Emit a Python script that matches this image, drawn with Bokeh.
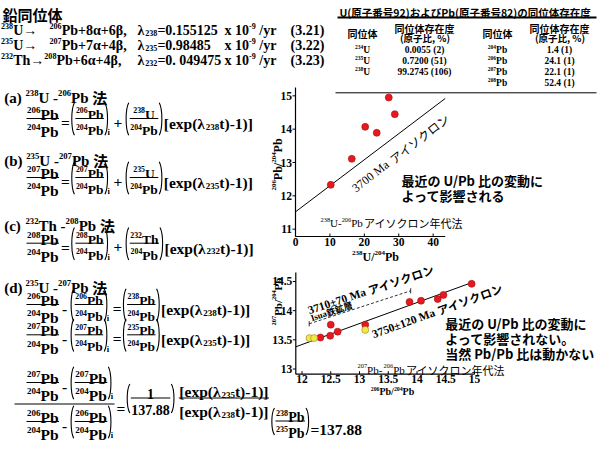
import math
from collections import defaultdict
from bokeh.plotting import figure
from bokeh.models import Range1d, ColumnDataSource
from bokeh.core.properties import value
from bokeh.embed import file_html
from bokeh.resources import INLINE

# ---------------- data ----------------
# table: isotope abundances
u_isotopes = ["234", "235", "238"]
u_abund = ["0.0055 (2)", "0.7200 (51)", "99.2745 (106)"]
pb_isotopes = ["204", "206", "207", "208"]
pb_abund = ["1.4 (1)", "24.1 (1)", "22.1 (1)", "52.4 (1)"]

# chart 1: 238U-206Pb isochron
c1_u238_pb204 = [10.25, 16.35, 20.25, 23.6, 27.1, 28.85]
c1_pb206_pb204 = [12.33, 13.11, 14.07, 13.89, 14.95, 14.45]
c1_iso_x = [0.0, 43.5]
c1_iso_y = [11.52, 14.92]
c1_xticks = [0, 10, 20, 30, 40]
c1_yticks = [11, 12, 13, 14, 15]
c1_xlim = (0.0, 43.5)
c1_ylim = (10.78, 15.25)

# chart 2: 207Pb-206Pb isochron
c2_red_x = [12.32, 12.49, 12.50, 12.62, 13.10, 13.87, 14.07, 14.36, 14.46, 14.95]
c2_red_y = [13.54, 13.57, 13.76, 13.64, 13.76, 14.15, 14.17, 14.20, 14.27, 14.46]
c2_yel_x = [12.13, 12.21, 13.10]
c2_yel_y = [13.53, 13.53, 13.67]
c2_iso_x = [11.89, 14.95]
c2_iso_y = [13.38, 14.48]
c2_isua_x = [12.125, 13.89]
c2_isua_y = [13.775, 14.34]
c2_xticks = [12, 12.5, 13, 13.5, 14, 14.5, 15]
c2_xticklabels = ["12", "12.5", "13", "13.5", "14", "14.5", "15"]
c2_yticks = [13, 13.5, 14, 14.5]
c2_yticklabels = ["13", "13.5", "14", "14.5"]
c2_xlim = (11.892, 15.0)
c2_ylim = (12.911, 14.654)

# ---------------- page figure (page pixel coordinates) ----------------
SERIF = "Liberation Serif"
JP = "Noto Sans CJK JP"

p = figure(width=597, height=443, x_range=Range1d(8, 605), y_range=Range1d(451, 8),
           output_backend="svg", toolbar_location=None, min_border=0,
           x_axis_location=None, y_axis_location=None)
p.grid.visible = False
p.outline_line_color = None
p.background_fill_color = "white"

items = []
rules = []   # (x0,y0,x1,y1,lw)
parens = []  # (x, top, bot, left)

WB = {'.': 0.25, ',': 0.25, ' ': 0.25, '(': 0.333, ')': 0.333, '[': 0.333, ']': 0.333,
      '+': 0.57, '=': 0.57, '-': 0.333, '/': 0.278, '±': 0.57, 'P': 0.611, 'b': 0.556,
      'U': 0.722, 'T': 0.667, 'h': 0.556, 'e': 0.444, 'x': 0.5, 'p': 0.556, 't': 0.333,
      'i': 0.278, 'y': 0.5, 'r': 0.444, 'M': 0.944, 'a': 0.5, 'I': 0.389, 's': 0.389,
      'u': 0.556, 'α': 0.55, 'β': 0.55, 'λ': 0.55, '→': 1.0, '%': 1.0}


def wid(s, size):
    w = 0.0
    for c in s:
        if ord(c) >= 0x3000:
            w += 1.0
        else:
            w += WB.get(c, 0.5)
    return w * size


def put(x, y, s, size, font=SERIF, style="bold", angle=0.0, align="left", base="alphabetic"):
    items.append((x, y, s, size, font, style, angle, align, base))


def rich(x, y, parts, size, style="bold", angle=0.0, align="left", sup=0.58, draw=True):
    segs = []
    for txt, mode in parts:
        sz = size * sup if mode in ("sup", "sub") else size
        font = JP if mode == "j" else SERIF
        w = wid(txt, sz)
        dy = -0.3 * size if mode == "sup" else (0.2 * size if mode == "sub" else 0.0)
        segs.append((txt, sz, font, w, dy))
    total = sum(s[3] for s in segs)
    if not draw:
        return total
    a = math.radians(angle)
    ca, sa = math.cos(a), math.sin(a)
    d = {"left": 0.0, "center": -total / 2, "right": -total}[align]
    for txt, sz, font, w, dy in segs:
        lead = len(txt) - len(txt.lstrip(" "))
        dd = d + lead * 0.25 * sz
        px = x + dd * ca + dy * sa
        py = y - dd * sa + dy * ca
        if txt.strip():
            put(px, py, txt.strip(), sz, font, style, a)
        d += w
    return total


def frac(xl, bar, num, den, size):
    w = max(rich(0, 0, num, size, draw=False), rich(0, 0, den, size, draw=False)) + 1
    xc = xl + w / 2
    lift = 6.5 if any(m == "sub" for _, m in num) else 4
    rich(xc, bar - lift, num, size, align="center")
    rich(xc, bar + 3.2 + 0.66 * size, den, size, align="center")
    rules.append((xl, bar, xl + w, bar, 1.0))
    return w


def seq(x, bar, ops, size=15.5):
    for op in ops:
        k = op[0]
        if k == "frac":
            sz = op[3] if len(op) > 3 else size
            x += frac(x, bar, op[1], op[2], sz)
        elif k == "op":
            x += rich(x, bar + 0.26 * size, [(op[1], "n")], size)
        elif k == "gap":
            x += op[1]
        elif k in ("lp", "rp"):
            h = op[1] if len(op) > 1 else 0.66 * size + 5.5
            parens.append((x, bar - h, bar + h + 1, k == "lp"))
            x += 4
        elif k == "i":
            put(x - 1, bar + 0.66 * size + 3.5, "i", size * 0.55)
            x += 2
        elif k == "txt":
            x += rich(x, bar + 5, op[1], size)
    return x


PB204 = [("204", "sup"), ("Pb", "n")]


def iso(n, el="Pb"):
    return [(n, "sup"), (el, "n")]


def expr(lam):
    return [("[exp(λ", "n"), (lam, "sub"), ("t)-1)]", "n")]


# header
put(10, 21.5, "鉛同位体", 15, JP, "bold")
HS = 14
hdr = [
    (38, [("238", "sup"), ("U→", "n")], [("206", "sup"), ("Pb+8α+6β,", "n")], "238", "=0.155125", "(3.21)"),
    (53, [("235", "sup"), ("U→", "n")], [("207", "sup"), ("Pb+7α+4β,", "n")], "235", "=0.98485", "(3.22)"),
    (68, [("232", "sup"), ("Th→", "n"), ("208", "sup"), ("Pb+6α+4β,", "n")], None, "232", "=0. 049475", "(3.23)"),
]
for bl, a1, a2, lam, val, num in hdr:
    rich(8.5, bl, a1, HS)
    if a2:
        rich(57, bl, a2, HS)
    rich(145, bl, [("λ", "n"), (lam, "sub"), (val, "n")], HS)
    rich(232, bl, [("x 10", "n"), ("-9", "sup"), (" /yr", "n")], HS)
    rich(298, bl, [(num, "n")], HS)

# section titles
titles = [(105, "(a) ", "238", "U", "206"), (168, "(b) ", "235", "U", "207"),
          (233, "(c) ", "232", "Th", "208"), (295, "(d) ", "235", "U", "207")]
for bl, lab, pi, pe, di in titles:
    rich(11.7, bl, [(lab, "n"), (pi, "sup"), (pe + " -", "n"), (di, "sup"), ("Pb ", "n"), ("法", "j")], 15)

# equations (a)-(c)
for bar, pbn, un, ue, lam in [(126, "206", "238", "U", "238"), (185, "207", "235", "U", "235"),
                             (250.7, "208", "232", "Th", "232")]:
    seq(34, bar, [("frac", iso(pbn), PB204), ("gap", 2), ("op", "="), ("gap", 1), ("lp",),
                  ("gap", 0.5), ("frac", iso(pbn), PB204, 13.5), ("gap", 0.5), ("rp",), ("i",),
                  ("gap", 3), ("op", "+"), ("gap", 3), ("lp",), ("gap", 0.5),
                  ("frac", iso(un, ue), PB204, 13.5), ("gap", 0.5), ("rp",), ("gap", 1), ("txt", expr(lam))])

# equations (d)
for bar, pbn, un, lam in [(312, "206", "238", "238"), (342.3, "207", "235", "235")]:
    seq(34, bar, [("frac", iso(pbn), PB204), ("gap", 3), ("op", "-"), ("gap", 3), ("lp",),
                  ("gap", 0.5), ("frac", iso(pbn), PB204, 13.5), ("gap", 0.5), ("rp",), ("i",),
                  ("gap", 3), ("op", "="), ("gap", 1), ("lp",), ("gap", 0.5),
                  ("frac", iso(un), PB204, 13.5), ("gap", 0.5), ("rp",), ("gap", 1), ("txt", expr(lam))])

# bottom equation
for bar, pbn in [(390, "207"), (429, "206")]:
    seq(34, bar, [("frac", iso(pbn), PB204), ("gap", 3), ("op", "-"), ("gap", 3), ("lp",),
                  ("gap", 0.5), ("frac", iso(pbn), PB204), ("gap", 0.5), ("rp",), ("i",)])
rules.append((22, 411.5, 122, 411.5, 1.0))
x = seq(124, 411.5, [("op", "=")])
x = seq(x + 1, 405.5, [("lp", 14), ("gap", 0.5),
                       ("frac", [("1", "n")], [("137.88", "n")], 14), ("gap", 0.5), ("rp", 14), ("gap", 4),
                       ("frac", expr("235"), expr("238"))])
x = seq(x + 2, 428.5, [("lp", 13), ("gap", 0.5), ("frac", iso("238"), iso("235"), 14), ("gap", 0.5),
                       ("rp", 13)])
rich(x + 1, 437, [("=137.88", "n")], 15.5)

# table
rich(347, 19.5, [("U(原子番号92)およびPb(原子番号82)の同位体存在度", "j")], 10.5)
rules.append((345, 25, 604, 25, 2.2))
rules.append((343, 100.3, 604, 100.3, 1.0))
for cx in (370, 505):
    rich(cx, 40.5, [("同位体", "j")], 10, align="center")
for cx in (432, 567):
    rich(cx, 36, [("同位体存在度", "j")], 10, align="center")
    rich(cx, 45.5, [("(原子比, %)", "j")], 9.5, align="center")
row_bl = [57, 68.2, 79.4, 90.6]
for i, (iso_n, ab) in enumerate(zip(u_isotopes, u_abund)):
    rich(370, row_bl[i], [(iso_n, "sup"), ("U", "n")], 9.5, align="center")
    rich(432, row_bl[i], [(ab, "n")], 9.5, align="center")
for i, (iso_n, ab) in enumerate(zip(pb_isotopes, pb_abund)):
    rich(505, row_bl[i], [(iso_n, "sup"), ("Pb", "n")], 9.5, align="center")
    rich(567, row_bl[i], [(ab, "n")], 9.5, align="center")

# chart annotation texts (page positions)
rich(285, 172, [("206", "sup"), ("Pb/", "n"), ("204", "sup"), ("Pb", "n")], 12, angle=90, align="center")
rich(383, 264, [("238", "sup"), ("U/", "n"), ("204", "sup"), ("Pb", "n")], 12, align="center")
rich(328, 230.5, [("238", "sup"), ("U-", "n"), ("206", "sup"), ("Pb", "n"), ("アイソクロン年代法", "j")], 11,
     style="normal")
rich(361, 197, [("3700 Ma ", "n"), ("アイソクロン", "j")], 12, style="normal", angle=38)
put(409, 188, "最近の U/Pb 比の変動に", 13, JP, "bold")
put(409, 203, "よって影響される", 13, JP, "bold")

rich(285, 309, [("207", "sup"), ("Pb/", "n"), ("204", "sup"), ("Pb", "n")], 11, angle=90, align="center")
rich(400, 399, [("206", "sup"), ("Pb/", "n"), ("204", "sup"), ("Pb", "n")], 10, align="center")
rich(365, 377, [("207", "sup"), ("Pb-", "n"), ("206", "sup"), ("Pb", "n"), ("アイソクロン年代法", "j")], 11,
     style="normal")
rich(315.7, 318, [("3710±70 Ma ", "n"), ("アイソクロン", "j")], 11.5, angle=18.5)
rich(318.5, 326, [("Isua", "n"), ("鉄鉱層", "j")], 9, angle=18.5)
rich(380, 342, [("3750±120 Ma ", "n"), ("アイソクロン", "j")], 11.5, angle=20)
put(452.7, 330.5, "最近の U/Pb 比の変動に", 13, JP, "bold")
put(452.7, 345.5, "よって影響されない。", 13, JP, "bold")
put(452.7, 360.5, "当然 Pb/Pb 比は動かない", 13, JP, "bold")


# ---------------- charts as subplots ----------------
def chart(xlim, ylim, xt_page, yt_page, xticks, xlabels, yticks, ylabels):
    sub = p.subplot(x_source=Range1d(*xlim), y_source=Range1d(*ylim),
                    x_target=Range1d(*xt_page), y_target=Range1d(*yt_page))
    x0, x1 = xlim
    y0, y1 = ylim
    tly = 3.0 * (y1 - y0) / abs(yt_page[0] - yt_page[1])
    tlx = 3.0 * (x1 - x0) / abs(xt_page[1] - xt_page[0])
    sub.segment(x0=[x0, x0], y0=[y0, y0], x1=[x0, x1], y1=[y1, y0], line_color="black", line_width=1.2)
    sub.segment(x0=xticks, y0=[y0] * len(xticks), x1=xticks, y1=[y0 + tly] * len(xticks),
                line_color="black", line_width=1)
    sub.segment(x0=[x0 - tlx] * len(yticks), y0=yticks, x1=[x0] * len(yticks), y1=yticks,
                line_color="black", line_width=1)
    sub.text(x=xticks, y=[y0] * len(xticks), text=xlabels, y_offset=1, text_align="center",
             text_baseline="top", text_font=value(SERIF), text_font_style="bold", text_font_size="11.5px")
    sub.text(x=[x0] * len(yticks), y=yticks, text=ylabels, x_offset=-3.5, text_align="right",
             text_baseline="middle", text_font=value(SERIF), text_font_style="bold", text_font_size="11.5px")
    return sub


s1 = chart(c1_xlim, c1_ylim, (303, 452.7), (244, 95), c1_xticks, [str(t) for t in c1_xticks],
           c1_yticks, [str(t) for t in c1_yticks])
s1.line(c1_iso_x, c1_iso_y, line_color="black", line_width=1)
s1.scatter(c1_u238_pb204, c1_pb206_pb204, size=7, marker="circle", fill_color="#e8191e",
           line_color="#a01014", line_width=0.6)

s2 = chart(c2_xlim, c2_ylim, (303.3, 482), (381.7, 280), c2_xticks, c2_xticklabels, c2_yticks, c2_yticklabels)
s2.line(c2_iso_x, c2_iso_y, line_color="black", line_width=1)
s2.line(c2_isua_x, c2_isua_y, line_color="black", line_width=0.8, line_dash="3 2")
s2.segment(x0=c2_isua_x, y0=[v - 0.045 for v in c2_isua_y], x1=c2_isua_x, y1=[v + 0.045 for v in c2_isua_y],
           line_color="black", line_width=0.8)
s2.scatter(c2_red_x, c2_red_y, size=7, marker="circle", fill_color="#e8191e",
           line_color="#a01014", line_width=0.6)
s2.scatter(c2_yel_x, c2_yel_y, size=7, marker="circle", fill_color="#f2e64a",
           line_color="#8c8a2c", line_width=0.6)

# ---------------- typographic rules, parens, texts ----------------
p.segment(x0=[r[0] for r in rules], y0=[r[1] for r in rules], x1=[r[2] for r in rules],
          y1=[r[3] for r in rules], line_width=[r[4] for r in rules], line_color="black")

bx0, by0, bx1, by1, bcx0, bcy0, bcx1, bcy1 = [], [], [], [], [], [], [], []
for x, top, bot, left in parens:
    h = bot - top
    if left:
        xe, xc = x + 3.5, x
    else:
        xe, xc = x + 0.5, x + 4
    bx0.append(xe); by0.append(top); bx1.append(xe); by1.append(bot)
    bcx0.append(xc); bcy0.append(top + 0.2 * h); bcx1.append(xc); bcy1.append(bot - 0.2 * h)
p.bezier(x0=bx0, y0=by0, x1=bx1, y1=by1, cx0=bcx0, cy0=bcy0, cx1=bcx1, cy1=bcy1,
         line_color="black", line_width=1.1)

groups = defaultdict(lambda: dict(x=[], y=[], text=[], size=[], angle=[]))
for (x, y, s, size, font, style, angle, align, base) in items:
    g = groups[(font, style, align, base)]
    g["x"].append(x); g["y"].append(y); g["text"].append(s)
    g["size"].append(f"{size:.1f}px"); g["angle"].append(angle)
for (font, style, align, base), d in groups.items():
    p.text(x="x", y="y", text="text", angle="angle", text_font_size="size", source=ColumnDataSource(d),
           text_font=value(font), text_font_style=style, text_align=align, text_baseline=base,
           text_color="black")

open("out.html", "w").write(file_html(p, INLINE))
